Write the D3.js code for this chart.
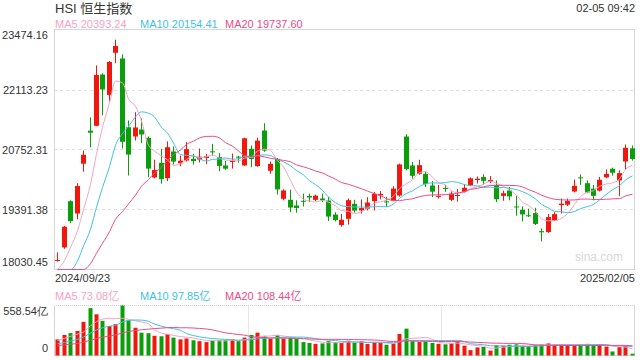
<!DOCTYPE html>
<html>
<head>
<meta charset="utf-8">
<script src="https://cdn.jsdelivr.net/npm/d3@7"></script>
<style>
  html, body { margin: 0; padding: 0; background: #fff; }
  svg { display: block; font-family: "Liberation Sans", Arial, "Noto Sans CJK SC", sans-serif; }
</style>
</head>
<body>
<svg id="chart"></svg>
<script>
const dates = [
  "2024-09-23","2024-09-24","2024-09-25","2024-09-26","2024-09-27","2024-09-30",
  "2024-10-02","2024-10-03","2024-10-04","2024-10-07","2024-10-08","2024-10-09","2024-10-10",
  "2024-10-14","2024-10-15","2024-10-16","2024-10-17","2024-10-18",
  "2024-10-21","2024-10-22","2024-10-23","2024-10-24","2024-10-25",
  "2024-10-28","2024-10-29","2024-10-30","2024-10-31","2024-11-01",
  "2024-11-04","2024-11-05","2024-11-06","2024-11-07","2024-11-08",
  "2024-11-11","2024-11-12","2024-11-13","2024-11-14","2024-11-15",
  "2024-11-18","2024-11-19","2024-11-20","2024-11-21","2024-11-22",
  "2024-11-25","2024-11-26","2024-11-27","2024-11-28","2024-11-29",
  "2024-12-02","2024-12-03","2024-12-04","2024-12-05","2024-12-06",
  "2024-12-09","2024-12-10","2024-12-11","2024-12-12","2024-12-13",
  "2024-12-16","2024-12-17","2024-12-18","2024-12-19","2024-12-20",
  "2024-12-23","2024-12-24","2024-12-27","2024-12-30","2024-12-31",
  "2025-01-02","2025-01-03","2025-01-06","2025-01-07","2025-01-08","2025-01-09","2025-01-10",
  "2025-01-13","2025-01-14","2025-01-15","2025-01-16","2025-01-17",
  "2025-01-20","2025-01-21","2025-01-22","2025-01-23","2025-01-24",
  "2025-01-27","2025-01-28","2025-02-03","2025-02-04","2025-02-05"
];

const opens = [
  18235, 18530, 19580, 19300, 20430, 21180, 21290, 22453, 21990, 22946, 22816, 21258, 21047,
  21206, 21018, 20117, 20451, 20103, 20707, 20440, 20503, 20541, 20526, 20560, 20710, 20580, 20390, 20470,
  20590, 20390, 20768, 20375, 21183, 20270, 20540, 19634, 19612, 19482, 19590, 19700, 19610, 19640, 19595,
  19278, 19040, 19180, 19520, 19370, 19410, 19580, 19710, 19575, 19595, 19709, 21047, 20390, 20201, 20201,
  19936, 19690, 19880, 19610, 19700, 19790, 19940, 20060, 20130, 20020, 19950, 19700, 19823, 19460, 19386,
  19260, 19310, 18900, 18880, 19140, 19490, 19500, 19800, 20120, 19988, 19863, 19820, 20120, 20316, 20050,
  20480, 20780
];
const highs = [
  18420, 19020, 19600, 19990, 20730, 21480, 22660, 22480, 22760, 23241.74, 22907, 21410, 21598,
  21455, 21050, 20519, 20768, 20934, 20820, 20615, 20918, 20655, 20775, 20650, 20881, 20670, 20500, 20660,
  20610, 21020, 20845, 21020, 21349, 20480, 20560, 19850, 19840, 19600, 19750, 19750, 19730, 19750, 19670,
  19330, 19290, 19640, 19612, 19620, 19670, 19790, 19810, 19680, 19920, 20430, 21101, 20468, 20519, 20250,
  20035, 19950, 19950, 19800, 19860, 19960, 20120, 20140, 20190, 20150, 20050, 19820, 19900, 19700, 19460,
  19410, 19430, 18960, 19290, 19330, 19640, 19640, 20070, 20185, 20050, 19950, 20130, 20300, 20340, 20280,
  20866, 20843
];
const lows = [
  18210, 18500, 19080, 19170, 20250, 20800, 21280, 21523, 21840, 22710, 20775, 20163, 20956,
  20895, 20126, 20100, 19975, 20035, 20412, 20370, 20480, 20410, 20457, 20420, 20616, 20260, 20290, 20320,
  20450, 20380, 20350, 20360, 20700, 20200, 19732, 19600, 19330, 19318, 19460, 19560, 19580, 19560, 19130,
  19120, 19000, 19050, 19320, 19300, 19370, 19370, 19620, 19450, 19580, 19680, 20280, 20090, 20180, 19900,
  19670, 19640, 19790, 19580, 19570, 19770, 19920, 19980, 19960, 19990, 19560, 19590, 19600, 19250, 19120,
  19220, 19040, 18670, 18860, 19130, 19300, 19470, 19780, 19950, 19760, 19600, 19800, 20100, 20160, 19700,
  20300, 20500
];
const closes = [
  18247.11, 19000.38, 19129.10, 19924.58, 20632.30, 21133.68, 22443.73, 22113.51, 22736.87, 23099.78,
  20926.79, 20637.24, 21251.98, 21092.87, 20318.79, 20286.79, 20079.11, 20804.11, 20478.46, 20498.95,
  20760.15, 20489.62, 20590.15, 20599.36, 20701.08, 20380.64, 20317.33, 20506.43, 20567.52, 21006.97,
  20538.38, 20953.34, 20728.19, 20426.93, 19846.88, 19823.45, 19435.81, 19426.34, 19576.61, 19663.67,
  19705.01, 19601.11, 19229.97, 19150.99, 19159.20, 19603.13, 19366.96, 19423.61, 19550.29, 19746.32,
  19742.46, 19560.44, 19865.85, 20414.09, 20311.28, 20155.05, 20397.05, 19971.24, 19795.49, 19700.42,
  19864.55, 19752.51, 19720.70, 19883.13, 20098.29, 20090.46, 20041.42, 20059.95, 19623.32, 19760.27,
  19688.29, 19447.58, 19279.84, 19240.89, 19064.29, 18874.14, 19219.78, 19286.07, 19522.89, 19584.06,
  19925.81, 20106.55, 19778.77, 19700.56, 20066.19, 20197.77, 20225.11, 20217.26, 20789.96, 20536.10
];
// turnover, 亿
const volumes = [
  180, 230, 250, 274, 376, 529, 460, 387, 329, 350, 558.54, 394, 310,
  255, 249, 220, 215, 240, 200, 180, 190, 170, 160, 150, 165, 170, 175, 180,
  160, 200, 230, 255, 220, 190, 230, 190, 200, 185, 150, 140, 130, 135, 160,
  150, 140, 165, 145, 160, 130, 145, 140, 120, 135, 240, 300, 160, 150, 155,
  140, 130, 125, 135, 160, 110, 60, 90, 95, 55, 115, 110, 120, 125, 110,
  105, 118, 122, 135, 118, 120, 117.3, 115, 125, 130, 118, 125.1, 100, 45, 95,
  105, 20.4
];

// sessions before 2024-09-23, only feed the moving averages
const priorCloses = [
  17798.73, 17874.67, 17692.45, 17786.32, 17989.07, 17691.97, 17651.49, 17457.34, 17444.30, 17444.30,
  17196.96, 17234.09, 17108.71, 17240.39, 17369.09, 17422.12, 17660.02, 18013.16, 18258.57
];
const priorVolumes = [95, 90, 100, 85, 110, 80, 85, 90, 88, 92, 85, 88, 95, 105, 98, 110, 140, 150, 260];

const priceTicks = [18030.45, 19391.38, 20752.31, 22113.23, 23474.16];
const volumeTicks = [0, 558.54];
const maPeriods = [5, 10, 20];
const maColors = ["#f7a3c4", "#3ec3df", "#ec4c88"];
const stamp = "02-05 09:42";
const title = "HSI 恒生指数";

const W = 640, H = 360;
const left = 54, right = 635;
const mainTop = 29.5, mainBottom = 269.5;
const volTop = 305.5, volBottom = 355.5;
const up = "#f2170c", down = "#0a9f0a";
const font = 11;

const svg = d3.select("#chart").attr("width", W).attr("height", H)
  .attr("viewBox", `0 0 ${W} ${H}`);

const parse = d3.timeParse("%Y-%m-%d");
const fmtDay = d3.timeFormat("%Y/%m/%d");

const x = d3.scaleBand().domain(dates).range([left, right])
  .paddingInner(0.25).paddingOuter(0.125);
const cx = (d) => Math.round(x(d) + x.bandwidth() / 2);

const y = d3.scaleLinear().domain([priceTicks[0], priceTicks[priceTicks.length - 1]])
  .range([mainBottom, mainTop]).clamp(true);
const yv = d3.scaleLinear().domain(volumeTicks).range([volBottom, volTop]).clamp(true);

function movingAvg(prior, vals, n) {
  const all = prior.concat(vals);
  return vals.map((_, i) => d3.mean(all.slice(i + prior.length - n + 1, i + prior.length + 1)));
}
const priceMA = maPeriods.map((n) => movingAvg(priorCloses, closes, n));
const volMA = maPeriods.map((n) => movingAvg(priorVolumes, volumes, n));

// header
svg.append("text").attr("x", 55).attr("y", 13).attr("font-size", 13).attr("fill", "#333").text(title);
svg.append("text").attr("x", right).attr("y", 12).attr("font-size", font).attr("fill", "#333")
  .attr("text-anchor", "end").text(stamp);

function legend(yPos, vals, suffix) {
  const xs = [55, 140, 225];
  maPeriods.forEach((n, k) => {
    svg.append("text").attr("x", xs[k]).attr("y", yPos).attr("font-size", font)
      .attr("fill", maColors[k])
      .text(`MA${n} ${vals[k][vals[k].length - 1].toFixed(2)}${suffix}`);
  });
}
legend(28, priceMA, "");

// main panel grid + frame
const grid = svg.append("g");
grid.selectAll("line").data(priceTicks.slice(1, -1)).join("line")
  .attr("x1", left).attr("x2", right)
  .attr("y1", (d) => Math.round(y(d)) + 0.5).attr("y2", (d) => Math.round(y(d)) + 0.5)
  .attr("stroke", "#dedede").attr("stroke-dasharray", "3,3");
svg.append("rect").attr("x", left + 0.5).attr("y", mainTop).attr("width", right - left - 1)
  .attr("height", mainBottom - mainTop).attr("fill", "none").attr("stroke", "#d6d6d6");

const yAxis = svg.append("g").attr("transform", `translate(${left - 3},0)`)
  .call(d3.axisLeft(y).tickValues(priceTicks).tickSize(0).tickFormat((d) => d.toFixed(2)));
yAxis.select(".domain").remove();
yAxis.selectAll("text").attr("font-size", font).attr("fill", "#333")
  .attr("font-family", null)
  .attr("dy", (d, i) => (i === 0 ? "-0.35em" : i === priceTicks.length - 1 ? "0.85em" : "0.32em"));

svg.append("text").attr("x", 623).attr("y", 261).attr("font-size", 12).attr("fill", "#d8d8d8")
  .attr("text-anchor", "end").text("sina.com");

// candles
const candles = svg.append("g").selectAll("g").data(dates).join("g");
candles.append("line")
  .attr("x1", (d) => cx(d) + 0.5).attr("x2", (d) => cx(d) + 0.5)
  .attr("y1", (d, i) => y(highs[i])).attr("y2", (d, i) => y(lows[i]))
  .attr("stroke", (d, i) => (closes[i] >= opens[i] ? up : down));
candles.append("rect")
  .attr("x", (d) => cx(d) - 2).attr("width", 5)
  .attr("y", (d, i) => y(Math.max(opens[i], closes[i])))
  .attr("height", (d, i) => Math.max(1, Math.abs(y(opens[i]) - y(closes[i]))))
  .attr("fill", (d, i) => (closes[i] >= opens[i] ? up : down));

// moving average lines
const maLine = (scale) => d3.line()
  .x((v, i) => cx(dates[i]) + 0.5).y((v) => scale(v)).curve(d3.curveMonotoneX);
priceMA.forEach((vals, k) => {
  svg.append("path").attr("d", maLine(y)(vals)).attr("fill", "none")
    .attr("stroke", maColors[k]).attr("stroke-width", 1);
});

// x labels
svg.append("text").attr("x", 55).attr("y", 282).attr("font-size", font).attr("fill", "#333")
  .text(fmtDay(parse(dates[0])));
svg.append("text").attr("x", right).attr("y", 282).attr("font-size", font).attr("fill", "#333")
  .attr("text-anchor", "end").text(fmtDay(parse(dates[dates.length - 1])));

// volume panel
legend(300, volMA, "亿");
const vgrid = svg.append("g").attr("stroke", "#cfcfcf").attr("stroke-dasharray", "1,1");
vgrid.append("line").attr("x1", left).attr("x2", right).attr("y1", volTop).attr("y2", volTop);
[1, 2].forEach((k) => {
  const gx = Math.round(left + (right - left) * k / 3) + 0.5;
  vgrid.append("line").attr("x1", gx).attr("x2", gx).attr("y1", volTop).attr("y2", volBottom);
});
svg.append("line").attr("x1", left + 0.5).attr("x2", left + 0.5).attr("y1", volTop).attr("y2", volBottom)
  .attr("stroke", "#d6d6d6");
svg.append("line").attr("x1", right - 0.5).attr("x2", right - 0.5).attr("y1", volTop).attr("y2", volBottom)
  .attr("stroke", "#d6d6d6");
svg.append("line").attr("x1", left).attr("x2", right).attr("y1", volBottom).attr("y2", volBottom)
  .attr("stroke", "#d6d6d6");

const vAxis = svg.append("g").attr("transform", `translate(${left - 3},0)`)
  .call(d3.axisLeft(yv).tickValues(volumeTicks).tickSize(0)
    .tickFormat((d) => (d === 0 ? "0" : d.toFixed(2) + "亿")));
vAxis.select(".domain").remove();
vAxis.selectAll("text").attr("font-size", font).attr("fill", "#333").attr("font-family", null)
  .attr("dy", (d, i) => (i === 0 ? "-0.35em" : "0.85em"));

svg.append("g").selectAll("rect").data(dates).join("rect")
  .attr("x", (d) => cx(d) - 1.5).attr("width", 4)
  .attr("y", (d, i) => yv(volumes[i]))
  .attr("height", (d, i) => volBottom - yv(volumes[i]))
  .attr("fill", (d, i) => (closes[i] >= opens[i] ? up : down));

volMA.forEach((vals, k) => {
  svg.append("path").attr("d", maLine(yv)(vals)).attr("fill", "none")
    .attr("stroke", maColors[k]).attr("stroke-width", 1);
});
</script>
</body>
</html>
